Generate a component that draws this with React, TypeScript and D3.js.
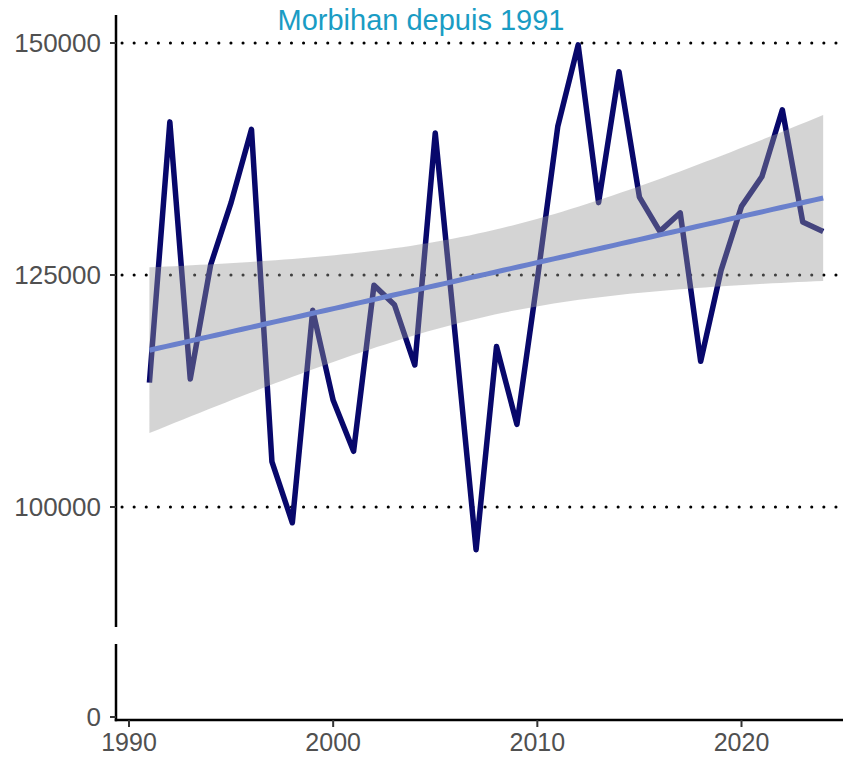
import React from "react";
import * as d3 from "d3";

const years = [1991,1992,1993,1994,1995,1996,1997,1998,1999,2000,2001,2002,2003,2004,2005,2006,2007,2008,2009,2010,2011,2012,2013,2014,2015,2016,2017,2018,2019,2020,2021,2022,2023,2024];
const values = [113400,141500,113800,126100,132800,140700,104900,98300,121200,111500,106000,123900,121800,115300,140300,118000,95400,117300,108900,124500,141000,149800,132800,146900,133400,129700,131700,115700,125500,132400,135600,142800,130700,129700];
const xTicks = [1990, 2000, 2010, 2020];
const yTicksUpper = [100000, 125000, 150000];
const yTicksLower = [0];
const title = "Morbihan depuis 1991";

const W = 843, H = 759;
const axisX = 116;
const upperTop = 15, upperBottom = 627;
const lowerTop = 644, lowerBottom = 720;

export default function App() {
  const x = d3.scaleLinear().domain([1990, 2020]).range([129, 741.5]);
  const yU = d3.scaleLinear().domain([100000, 150000]).range([507, 43]);
  const yL = d3.scaleLinear().domain([0, 4000]).range([717, 680]);

  // linear regression with 95% CI
  const n = years.length;
  const xbar = d3.mean(years)!;
  const ybar = d3.mean(values)!;
  const sxx = d3.sum(years, (v) => (v - xbar) ** 2);
  const sxy = d3.sum(years.map((v, i) => (v - xbar) * (values[i] - ybar)));
  const b = sxy / sxx;
  const a = ybar - b * xbar;
  const sse = d3.sum(years.map((v, i) => (values[i] - (a + b * v)) ** 2));
  const s = Math.sqrt(sse / (n - 2));
  const tq = 2.037;
  const grid = d3.range(0, 81).map((i) => years[0] + (i / 80) * (years[n - 1] - years[0]));
  const band = grid.map((g) => {
    const fit = a + b * g;
    const se = s * Math.sqrt(1 / n + (g - xbar) ** 2 / sxx);
    return { g, fit, lo: fit - tq * se, hi: fit + tq * se };
  });

  const line = d3.line<number>().x((_, i) => x(years[i])).y((v) => yU(v));
  const area = d3.area<any>().x((d) => x(d.g)).y0((d) => yU(d.lo)).y1((d) => yU(d.hi));
  const fitLine = d3.line<any>().x((d) => x(d.g)).y((d) => yU(d.fit));

  const font = "'Liberation Sans', Arial, sans-serif";

  return (
    <svg width={W} height={H} style={{ position: "absolute", left: 0, top: 0, background: "#fff" }}>
      <defs>
        <clipPath id="upperClip">
          <rect x={axisX} y={upperTop} width={W - axisX} height={upperBottom - upperTop} />
        </clipPath>
      </defs>
      <rect x={0} y={0} width={W} height={H} fill="#fff" />
      {/* grid */}
      {yTicksUpper.map((t) => (
        <line key={t} x1={axisX + 6} x2={W} y1={yU(t)} y2={yU(t)} stroke="#000" strokeWidth={3}
          strokeDasharray="0.1 12" strokeLinecap="round" />
      ))}
      <g clipPath="url(#upperClip)">
        <path d={line(values)!} fill="none" stroke="#08086b" strokeWidth={5.5} strokeLinejoin="round" />
        <path d={area(band)!} fill="#999999" fillOpacity={0.42} />
        <path d={fitLine(band)!} fill="none" stroke="#6a80cc" strokeWidth={5} />
      </g>
      {/* axes */}
      <line x1={axisX} x2={axisX} y1={upperTop} y2={upperBottom} stroke="#000" strokeWidth={2.5} />
      <line x1={axisX} x2={axisX} y1={lowerTop} y2={lowerBottom + 1.25} stroke="#000" strokeWidth={2.5} />
      <line x1={axisX - 1.25} x2={W} y1={lowerBottom} y2={lowerBottom} stroke="#000" strokeWidth={2.5} />
      {yTicksUpper.map((t) => (
        <g key={t}>
          <line x1={axisX - 6} x2={axisX} y1={yU(t)} y2={yU(t)} stroke="#333" strokeWidth={2} />
          <text x={axisX - 15} y={yU(t)} dy="0.36em" textAnchor="end" fontFamily={font} fontSize={26} fill="#505050">{t}</text>
        </g>
      ))}
      {yTicksLower.map((t) => (
        <g key={t}>
          <line x1={axisX - 6} x2={axisX} y1={yL(t)} y2={yL(t)} stroke="#333" strokeWidth={2} />
          <text x={axisX - 15} y={yL(t)} dy="0.36em" textAnchor="end" fontFamily={font} fontSize={26} fill="#505050">{t}</text>
        </g>
      ))}
      {xTicks.map((t) => (
        <g key={t}>
          <line x1={x(t)} x2={x(t)} y1={lowerBottom} y2={lowerBottom + 7} stroke="#333" strokeWidth={2} />
          <text x={x(t)} y={lowerBottom + 31} textAnchor="middle" fontFamily={font} fontSize={25} fill="#505050">{t}</text>
        </g>
      ))}
      <text x={421} y={30} textAnchor="middle" fontFamily={font} fontSize={29} fill="#1a9cc4">{title}</text>
    </svg>
  );
}
